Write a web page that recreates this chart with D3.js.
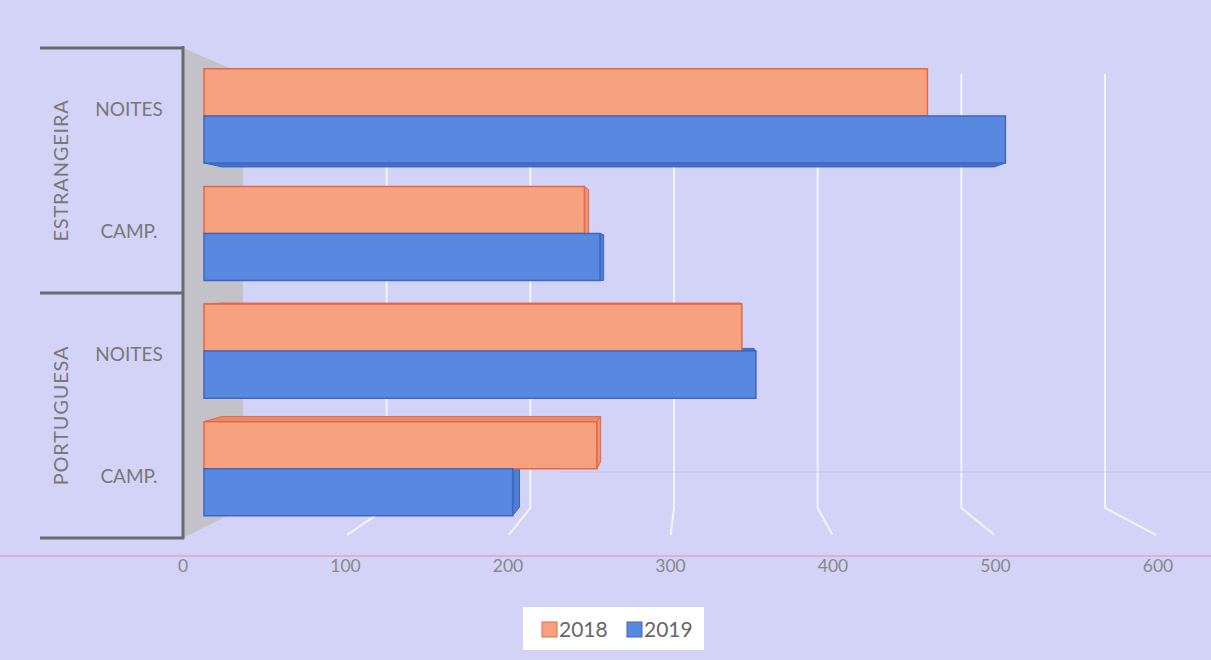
<!DOCTYPE html>
<html>
<head>
<meta charset="utf-8">
<script src="https://cdn.jsdelivr.net/npm/d3@7"></script>
<style>
  html, body { margin: 0; padding: 0; background: #d3d3f7; }
  svg { display: block; font-family: Lato, "Open Sans", sans-serif; }
</style>
</head>
<body>
<svg id="chart" width="1211" height="660"></svg>
<script>
var groups = ["ESTRANGEIRA", "PORTUGUESA"],
    subCats = ["NOITES", "CAMP."],
    rows = ["ESTRANGEIRA|NOITES", "ESTRANGEIRA|CAMP.", "PORTUGUESA|NOITES", "PORTUGUESA|CAMP."],
    series = ["2018", "2019"],
    values2018 = [464, 244, 345, 252],
    values2019 = [514, 254, 354, 198],
    tickValues = [0, 100, 200, 300, 400, 500, 600];

var svg = d3.select("#chart"),
    width = 1211,
    height = 660;

// front plane and back wall of the 3d box
var xFront = d3.scaleLinear().domain([0, 600]).range([183, 1158]),
    xBack = d3.scaleLinear().domain([0, 600]).range([243, 1105]),
    yBack = d3.scaleLinear().domain([48, 538]).range([74, 508]);

var y = d3.scaleBand()
    .domain(rows)
    .range([48, 538])
    .paddingInner(0.2)
    .paddingOuter(0.1);

var ySub = d3.scaleBand().domain(series).range([0, y.bandwidth()]);

var colors = {
  "2018": { front: "#f6a27f", edge: "#e5664b", flat: "#e98a66", cap: "#ee9472" },
  "2019": { front: "#5888df", edge: "#3e66c3", flat: "#4570c8", cap: "#4f7dd2" }
};

function proj(v, h, z) {
  return [xFront(v) * (1 - z) + xBack(v) * z, h * (1 - z) + yBack(h) * z];
}
function poly(pts) { return "M" + pts.map(function(p) { return p.join(","); }).join("L") + "Z"; }

svg.append("rect").attr("width", width).attr("height", height).attr("fill", "#d3d3f7");

// side wall
svg.append("path")
    .attr("d", poly([proj(0, 48, 0), proj(0, 48, 1), proj(0, 538, 1), proj(0, 538, 0)]))
    .attr("fill", "#c2c2c8");

// gridlines on back wall and floor
var grid = svg.append("g").attr("stroke", "#f4f4ff").attr("stroke-width", 2).attr("fill", "none");
grid.selectAll("path")
  .data(tickValues.slice(1))
  .enter().append("path")
    .attr("d", function(d) {
      var a = proj(d, 48, 1), b = proj(d, 538, 1), c = proj(d, 536, 0.04);
      return "M" + a + "L" + b + "L" + c;
    });

// scan lines
svg.append("line").attr("x1", 0).attr("x2", width).attr("y1", 556).attr("y2", 556)
    .attr("stroke", "#e3a2d6").attr("stroke-width", 1.5);
svg.append("line").attr("x1", 560).attr("x2", width).attr("y1", 472).attr("y2", 472)
    .attr("stroke", "#c4c4ea").attr("stroke-width", 1);

// bars
var bars = [];
rows.forEach(function(r, i) {
  bars.push({ row: r, s: "2018", v: values2018[i] });
  bars.push({ row: r, s: "2019", v: values2019[i] });
});
bars.forEach(function(d) {
  d.h0 = y(d.row) + ySub(d.s);
  d.h1 = d.h0 + ySub.bandwidth();
});

var z1 = 0.35, z2 = 0.65, horizon = 275.5;
var gBars = svg.append("g");

// top / bottom faces
gBars.selectAll("path.flat")
  .data(bars)
  .enter().append("path")
    .attr("class", "flat")
    .attr("d", function(d) {
      var h = d.h1 < horizon ? d.h1 : d.h0;
      return poly([proj(0, h, z1), proj(d.v, h, z1), proj(d.v, h, z2), proj(0, h, z2)]);
    })
    .attr("fill", function(d) { return colors[d.s].flat; })
    .attr("stroke", function(d) { return colors[d.s].edge; })
    .attr("stroke-width", 1);

// right end caps
gBars.selectAll("path.cap")
  .data(bars.filter(function(d) { return proj(d.v, 0, z2)[0] > proj(d.v, 0, z1)[0]; }))
  .enter().append("path")
    .attr("class", "cap")
    .attr("d", function(d) {
      return poly([proj(d.v, d.h0, z1), proj(d.v, d.h0, z2), proj(d.v, d.h1, z2), proj(d.v, d.h1, z1)]);
    })
    .attr("fill", function(d) { return colors[d.s].cap; })
    .attr("stroke", function(d) { return colors[d.s].edge; })
    .attr("stroke-width", 1);

// front faces
gBars.selectAll("path.front")
  .data(bars)
  .enter().append("path")
    .attr("class", "front")
    .attr("d", function(d) {
      return poly([proj(0, d.h0, z1), proj(d.v, d.h0, z1), proj(d.v, d.h1, z1), proj(0, d.h1, z1)]);
    })
    .attr("fill", function(d) { return colors[d.s].front; })
    .attr("stroke", function(d) { return colors[d.s].edge; })
    .attr("stroke-width", 1.5);

// category axis frame
var frame = svg.append("g").attr("stroke", "#6b6b6b").attr("stroke-width", 3).attr("fill", "none");
frame.append("line").attr("x1", 183).attr("x2", 183).attr("y1", 46).attr("y2", 539);
[48, y(rows[2]) - y.step() * y.paddingInner() / 2, 538].forEach(function(yy) {
  frame.append("line").attr("x1", 40).attr("x2", 184).attr("y1", yy).attr("y2", yy);
});

svg.append("g").selectAll("text")
  .data(rows)
  .enter().append("text")
    .attr("x", 129)
    .attr("y", function(d) { return y(d) + y.bandwidth() / 2; })
    .attr("dy", "0.35em")
    .attr("text-anchor", "middle")
    .attr("fill", "#787878")
    .style("font-size", "19px")
    .text(function(d) { return d.split("|")[1]; });

svg.append("g").selectAll("text")
  .data(groups)
  .enter().append("text")
    .attr("transform", function(d, i) {
      var yy = (y(rows[i * 2]) + y(rows[i * 2 + 1]) + y.bandwidth()) / 2;
      return "translate(61," + yy + ") rotate(-90)";
    })
    .attr("dy", "0.35em")
    .attr("text-anchor", "middle")
    .attr("fill", "#787878")
    .style("font-size", "20px")
    .style("letter-spacing", "0.8px")
    .text(function(d) { return d; });

// value axis labels
svg.append("g").selectAll("text")
  .data(tickValues)
  .enter().append("text")
    .attr("x", function(d) { return xFront(d); })
    .attr("y", 566)
    .attr("dy", "0.35em")
    .attr("text-anchor", "middle")
    .attr("fill", "#888")
    .style("font-size", "17.5px")
    .text(function(d) { return d; });

// legend
var legend = svg.append("g").attr("transform", "translate(523,607)");
legend.append("rect").attr("width", 181).attr("height", 43).attr("fill", "#ffffff");
var item = legend.selectAll("g")
  .data(series)
  .enter().append("g")
    .attr("transform", function(d, i) { return "translate(" + (19 + i * 85) + ",15)"; });
item.append("rect")
    .attr("width", 15).attr("height", 15)
    .attr("fill", function(d) { return colors[d].front; })
    .attr("stroke", function(d) { return colors[d].edge; });
item.append("text")
    .attr("x", 17).attr("y", 8).attr("dy", "0.35em")
    .attr("fill", "#666")
    .style("font-size", "21px")
    .text(function(d) { return d; });
</script>
</body>
</html>
